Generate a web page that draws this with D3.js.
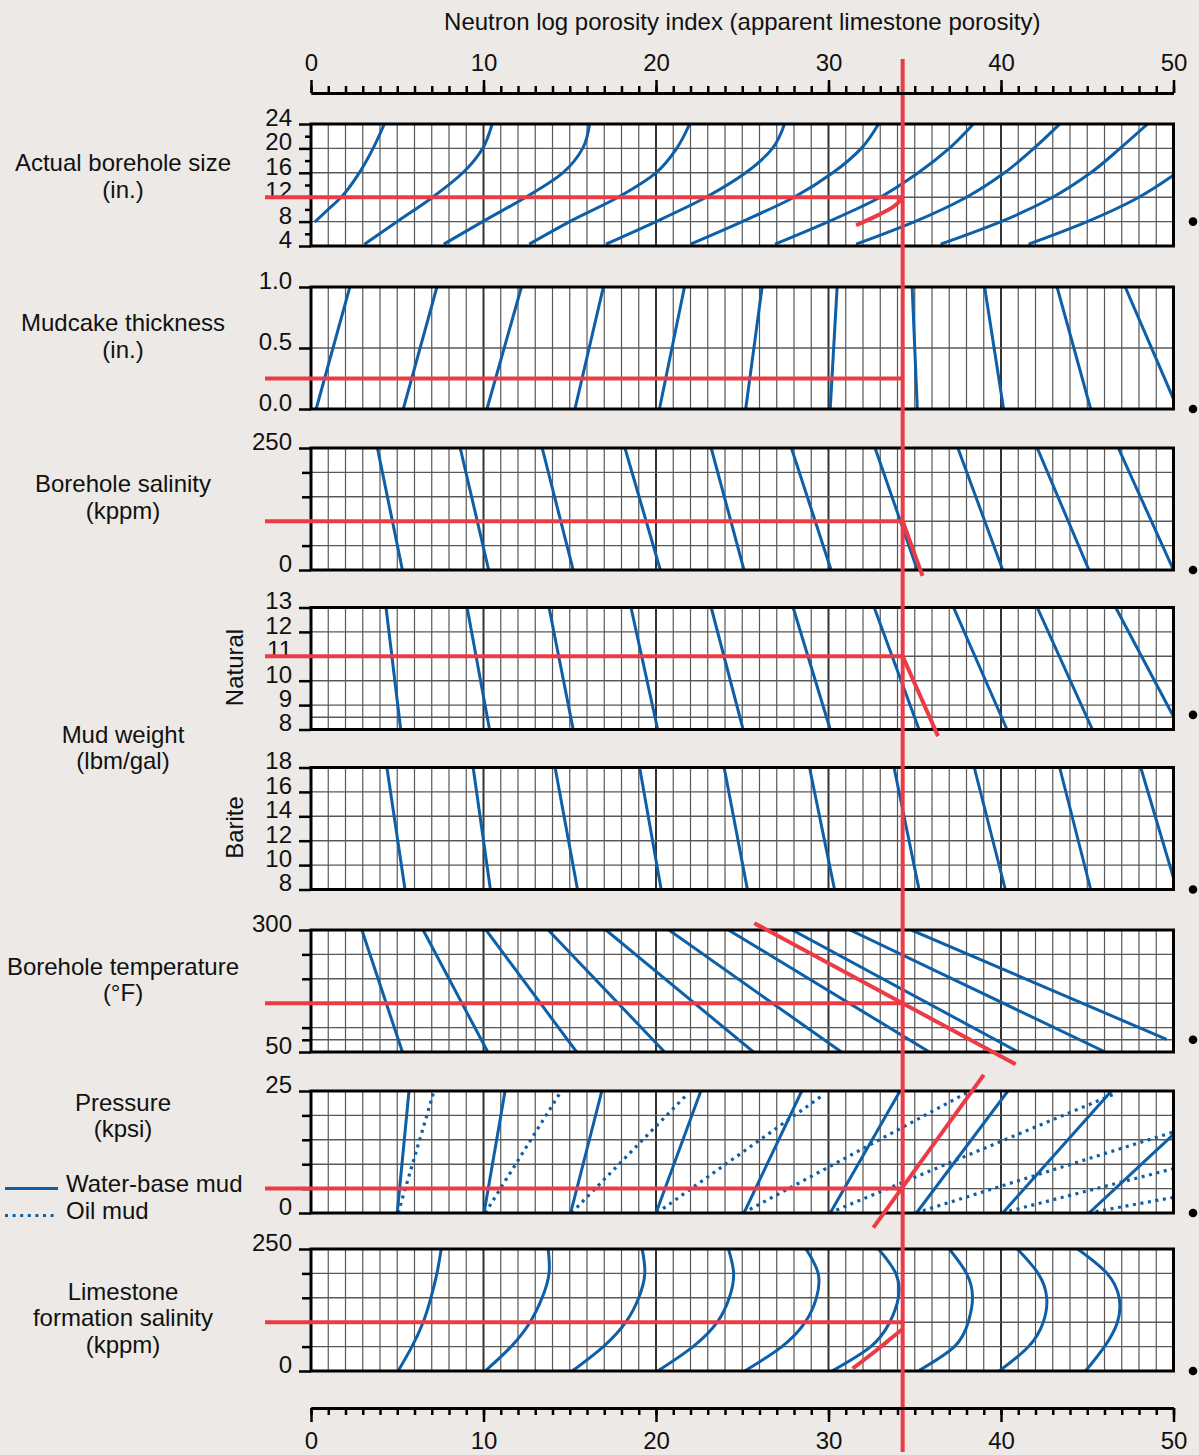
<!DOCTYPE html>
<html><head><meta charset="utf-8">
<script src="https://cdn.jsdelivr.net/npm/d3@7"></script>
<style>
body{margin:0;background:#ECE9E6;}
svg{display:block;}
text{font-family:"Liberation Sans",Arial,Helvetica,sans-serif;fill:#111;}
</style>
</head><body>
<svg id="c" width="1199" height="1455"></svg>
<script>
// ---------------- DATA ----------------
const chartTitle = "Neutron log porosity index (apparent limestone porosity)";
const porosityMajorTicks = [0,10,20,30,40,50];
const porosityMinorTicks = d3.range(0,51,1);
const apparentPorosity = 34.3;

// Panel 1: actual borehole size (in.)
const sizeDomain = [4,24];
const sizeLabelTicks = [4,8,12,16,20,24];
const sizeMinorTicks = [6,10,14,18,22];
const sizeGrid = [8,12,16,20];
const boreholeSizeCurves = [
  [[0.2,7.9],[1.0,10],[1.75,12],[2.8,16],[3.6,20],[4.25,24]],
  [[3.1,4.3],[5.0,8],[7.05,12],[8.8,16],[9.95,20],[10.5,24]],
  [[7.7,4.3],[9.95,8],[12.45,12],[14.6,16],[15.75,20],[16.15,24]],
  [[12.65,4.3],[15.0,8],[17.8,12],[20.0,16],[21.2,20],[21.95,24]],
  [[17.1,4.3],[20.0,8],[22.9,12],[25.2,16],[26.75,20],[27.45,24]],
  [[22.0,4.3],[25.0,8],[28.0,12],[30.25,16],[31.9,20],[32.9,24]],
  [[26.9,4.3],[30.0,8],[33.0,12],[35.2,16],[37.0,20],[38.4,24]],
  [[31.6,4.3],[35.0,8],[38.0,12],[40.2,16],[41.9,20],[43.4,24]],
  [[36.5,4.3],[40.0,8],[43.0,12],[45.2,16],[46.9,20],[48.5,24]],
  [[41.6,4.3],[45.0,8],[48.0,12],[49.95,15.5]]
];
const boreholeSizeInput = 12;
const boreholeSizeCorrection = [[31.6,7.4],[32.9,9.1],[33.75,10.4],[34.3,11.9]];

// Panel 2: mudcake thickness (in.)
const mudcakeDomain = [0,1];
const mudcakeLabelTicks = [0,0.5,1];
const mudcakeGrid = [0.5];
const mudcakeLines = [
  [[0.3,0],[2.25,1]],[[5.35,0],[7.3,1]],[[10.2,0],[12.2,1]],[[15.3,0],[16.95,1]],
  [[20.2,0],[21.65,1]],[[25.2,0],[26.15,1]],[[30.1,0],[30.5,1]],[[35.15,0],[34.85,1]],
  [[40.15,0],[39.05,1]],[[45.2,0],[43.25,1]],[[50.25,0],[47.2,1]]
];
const mudcakeInput = 0.25;

// Panel 3: borehole salinity (kppm)
const bhSalinityDomain = [0,250];
const bhSalinityLabelTicks = [0,250];
const bhSalinityMinorTicks = [50,100,150,200];
const bhSalinityGrid = [50,100,150,200];
const bhSalinityLines = [
  [[3.85,250],[5.3,0]],[[8.65,250],[10.3,0]],[[13.4,250],[15.2,0]],[[18.2,250],[20.25,0]],
  [[23.2,250],[25.1,0]],[[27.85,250],[30.15,0]],[[32.7,250],[35.15,0]],[[37.5,250],[40.1,0]],
  [[42.1,250],[45.1,0]],[[46.8,250],[50.0,0]]
];
const bhSalinityInput = 100;
const bhSalinityCorrection = [[34.3,100],[35.45,-12]];

// Panel 4: natural mud weight (lbm/gal)
const naturalDomain = [8,13];
const naturalLabelTicks = [8,9,10,11,12,13];
const naturalGrid = [8.5,9,10,11,12];
const naturalLines = [
  [[4.35,13],[5.2,8]],[[9.05,13],[10.35,8]],[[13.8,13],[15.2,8]],[[18.55,13],[20.1,8]],
  [[23.2,13],[25.05,8]],[[27.95,13],[30.1,8]],[[32.65,13],[35.25,8]],[[37.25,13],[40.35,8]],
  [[42.1,13],[45.3,8]],[[46.65,13],[50.4,8]]
];
const naturalInput = 11;
const naturalCorrection = [[34.3,11],[36.35,7.73]];

// Panel 5: barite mud weight (lbm/gal)
const bariteDomain = [8,18];
const bariteLabelTicks = [8,10,12,14,16,18];
const bariteGrid = [10,12,14,16];
const bariteLines = [
  [[4.4,18],[5.45,8]],[[9.4,18],[10.4,8]],[[14.15,18],[15.45,8]],[[19.05,18],[20.3,8]],
  [[23.95,18],[25.3,8]],[[28.9,18],[30.35,8]],[[33.8,18],[35.25,8]],[[38.45,18],[40.25,8]],
  [[43.4,18],[45.2,8]],[[48.1,18],[50.2,8]]
];

// Panel 6: borehole temperature (°F)
const temperatureDomain = [50,300];
const temperatureLabelTicks = [50,300];
const temperatureMinorTicks = [75,100,150,200,250];
const temperatureGrid = [75,100,150,200,250];
const temperatureLines = [
  [[2.95,300],[5.3,50]],[[6.5,300],[10.25,50]],[[10.15,300],[15.4,50]],[[13.75,300],[20.5,50]],
  [[17.1,300],[25.65,50]],[[20.75,300],[30.75,50]],[[24.2,300],[35.85,50]],[[27.9,300],[41.0,50]],
  [[31.25,300],[46.05,50]],[[34.8,300],[49.6,76]]
];
const temperatureInput = 150;
const temperatureCorrection = [[25.7,314],[40.85,24.7]];

// Panel 7: pressure (kpsi)
const pressureDomain = [0,25];
const pressureLabelTicks = [0,25];
const pressureMinorTicks = [5,10,15,20];
const pressureGrid = [5,10,15,20];
const waterBaseMudLines = [
  [[5.0,0],[5.68,25]],[[10.03,0],[11.25,25]],[[15.05,0],[16.86,25]],[[20.0,0],[22.6,25]],
  [[25.1,0],[28.45,25]],[[30.1,0],[34.15,25]],[[35.1,0],[40.4,25]],[[40.1,0],[46.4,25]],
  [[45.1,0],[50.0,16.1]]
];
const oilMudLines = [
  [[5.05,0],[7.13,25]],[[10.1,0],[14.4,24.4]],[[15.1,0],[21.8,24.3]],[[20.05,0],[29.7,24.2]],
  [[25.05,0],[38.0,24.6]],[[30.05,0],[46.65,24.5]],[[35.05,0],[50.0,16.6]],[[40.05,0],[50.0,9.1]],
  [[45.05,0],[50.0,3.2]]
];
const pressureInput = 5;
const pressureCorrection = [[32.6,-3],[39.0,28.3]];

// Panel 8: limestone formation salinity (kppm)
const lsSalinityDomain = [0,250];
const lsSalinityLabelTicks = [0,250];
const lsSalinityMinorTicks = [50,100,150,200];
const lsSalinityGrid = [50,100,150,200];
const lsSalinityLevels = [0,50,100,150,200,250];
const lsSalinityPorosity = [
  [5.05,5.85,6.5,6.95,7.3,7.55],
  [10.1,11.6,12.7,13.4,13.8,13.75],
  [15.15,16.95,18.25,19.0,19.35,19.2],
  [20.1,22.15,23.55,24.25,24.5,24.2],
  [25.15,27.3,28.65,29.3,29.4,28.7],
  [30.2,32.45,33.55,34.05,33.9,32.9],
  [35.2,37.3,38.1,38.35,38.0,37.0],
  [39.9,41.6,42.45,42.65,42.15,40.95],
  [44.9,46.0,46.75,46.85,46.15,44.45]
];
const lsSalinityCurves = lsSalinityPorosity.map(row=>row.map((v,k)=>[v,lsSalinityLevels[k]]));
const lsSalinityInput = 100;
const lsSalinityCorrection = [[31.4,5],[32.8,43],[33.6,66],[34.3,86]];

// Standard-condition markers (one per panel)
const standardConditions = [8,0,0,8.6,8,75,0,0];

// ---------------- LAYOUT / DRAW ----------------
const W=1199, H=1455, PH=122, FS=24;
const BLUE='#0d5fa7', RED='#ec3b45';
const svg=d3.select('#c');
svg.append('rect').attr('width',W).attr('height',H).attr('fill','#ECE9E6');
const x=d3.scaleLinear().domain([0,50]).range([311,1173.5]);
const panelTops=[124,287,448,607.5,767.5,930,1091,1249];

const panels=[
  {domain:sizeDomain,labels:sizeLabelTicks,minor:sizeMinorTicks,minorSize:6,grid:sizeGrid,fmt:d3.format('d'),
   series:[{lines:boreholeSizeCurves,curve:d3.curveMonotoneY}],input:boreholeSizeInput,corr:boreholeSizeCorrection,corrCurve:d3.curveMonotoneY},
  {domain:mudcakeDomain,labels:mudcakeLabelTicks,minor:[],grid:mudcakeGrid,fmt:d3.format('.1f'),
   series:[{lines:mudcakeLines}],input:mudcakeInput},
  {domain:bhSalinityDomain,labels:bhSalinityLabelTicks,minor:bhSalinityMinorTicks,minorSize:9,grid:bhSalinityGrid,fmt:d3.format('d'),
   series:[{lines:bhSalinityLines}],input:bhSalinityInput,corr:bhSalinityCorrection},
  {domain:naturalDomain,labels:naturalLabelTicks,minor:[],grid:naturalGrid,fmt:d3.format('d'),
   series:[{lines:naturalLines}],input:naturalInput,corr:naturalCorrection},
  {domain:bariteDomain,labels:bariteLabelTicks,minor:[],grid:bariteGrid,fmt:d3.format('d'),
   series:[{lines:bariteLines}]},
  {domain:temperatureDomain,labels:temperatureLabelTicks,minor:temperatureMinorTicks,minorSize:9,grid:temperatureGrid,fmt:d3.format('d'),
   series:[{lines:temperatureLines}],input:temperatureInput,corr:temperatureCorrection},
  {domain:pressureDomain,labels:pressureLabelTicks,minor:pressureMinorTicks,minorSize:9,grid:pressureGrid,fmt:d3.format('d'),
   series:[{lines:waterBaseMudLines},{lines:oilMudLines,dotted:true}],input:pressureInput,corr:pressureCorrection},
  {domain:lsSalinityDomain,labels:lsSalinityLabelTicks,minor:lsSalinityMinorTicks,minorSize:9,grid:lsSalinityGrid,fmt:d3.format('d'),
   series:[{lines:lsSalinityCurves,curve:d3.curveNatural}],input:lsSalinityInput,corr:lsSalinityCorrection,corrCurve:d3.curveNatural}
];

const defs=svg.append('defs');
const redLayer=[];

panels.forEach((p,i)=>{
  const top=panelTops[i];
  const y=d3.scaleLinear().domain(p.domain).range([top+PH,top]);
  const g=svg.append('g');
  const x0=x(0), x1=x(50);
  g.append('rect').attr('x',x0).attr('y',top).attr('width',x1-x0).attr('height',PH).attr('fill','#fff');
  g.append('g').selectAll('line').data(d3.range(1,50)).join('line')
    .attr('x1',d=>x(d)).attr('x2',d=>x(d)).attr('y1',top).attr('y2',top+PH)
    .attr('stroke',d=>d%10===0?'#333':'#585858').attr('stroke-width',d=>d%10===0?2:1.2);
  g.append('g').selectAll('line').data(p.grid).join('line')
    .attr('x1',x0).attr('x2',x1).attr('y1',d=>y(d)).attr('y2',d=>y(d))
    .attr('stroke','#585858').attr('stroke-width',1.4);
  const cid='clip'+i;
  defs.append('clipPath').attr('id',cid).append('rect').attr('x',x0).attr('y',top).attr('width',x1-x0).attr('height',PH);
  const lg=g.append('g').attr('clip-path',`url(#${cid})`);
  p.series.forEach(s=>{
    const gen=d3.line().x(d=>x(d[0])).y(d=>y(d[1]));
    if(s.curve) gen.curve(s.curve);
    lg.append('g').selectAll('path').data(s.lines).join('path')
      .attr('d',gen).attr('fill','none').attr('stroke',BLUE)
      .attr('stroke-width',s.dotted?3.2:3)
      .attr('stroke-dasharray',s.dotted?'3 4.6':null);
  });
  g.append('rect').attr('x',x0).attr('y',top).attr('width',x1-x0).attr('height',PH)
    .attr('fill','none').attr('stroke','#000').attr('stroke-width',3);
  const ax=g.append('g').attr('transform',`translate(${x0},0)`)
    .call(d3.axisLeft(y).tickValues(p.labels).tickSize(12).tickPadding(7).tickFormat(p.fmt));
  ax.select('.domain').remove();
  ax.selectAll('line').attr('stroke','#000').attr('stroke-width',2.5);
  ax.selectAll('text').attr('font-size',FS).attr('dy','0.06em').style('font-family','"Liberation Sans",Arial,sans-serif').attr('fill','#111');
  if(p.minor.length){
    const am=g.append('g').attr('transform',`translate(${x0},0)`)
      .call(d3.axisLeft(y).tickValues(p.minor).tickSize(p.minorSize).tickFormat(''));
    am.select('.domain').remove();
    am.selectAll('line').attr('stroke','#000').attr('stroke-width',2.5);
  }
  g.append('circle').attr('cx',x1+19.5).attr('cy',y(standardConditions[i])).attr('r',4.3).attr('fill','#000');
  if(p.input!==undefined) redLayer.push({type:'h',y:y(p.input)});
  if(p.corr){
    const gen=d3.line().x(d=>x(d[0])).y(d=>y(d[1]));
    if(p.corrCurve) gen.curve(p.corrCurve);
    redLayer.push({type:'p',d:gen(p.corr)});
  }
});

const rg=svg.append('g');
redLayer.forEach(r=>{
  if(r.type==='h'){
    rg.append('line').attr('x1',265).attr('x2',x(apparentPorosity)).attr('y1',r.y).attr('y2',r.y)
      .attr('stroke',RED).attr('stroke-width',4);
  } else {
    rg.append('path').attr('d',r.d).attr('fill','none').attr('stroke',RED).attr('stroke-width',4);
  }
});
rg.append('line').attr('x1',x(apparentPorosity)).attr('x2',x(apparentPorosity)).attr('y1',59).attr('y2',1452)
  .attr('stroke',RED).attr('stroke-width',4);

function styleAxis(a){
  a.select('.domain').attr('stroke','#000').attr('stroke-width',3);
  a.selectAll('.tick line').attr('stroke','#000').attr('stroke-width',2.5);
  a.selectAll('text').attr('font-size',FS).style('font-family','"Liberation Sans",Arial,sans-serif').attr('fill','#111');
}
const tMinor=svg.append('g').attr('transform','translate(0,93)')
  .call(d3.axisTop(x).tickValues(porosityMinorTicks).tickSize(7).tickSizeOuter(0).tickFormat(''));
styleAxis(tMinor);
const tMajor=svg.append('g').attr('transform','translate(0,93)')
  .call(d3.axisTop(x).tickValues(porosityMajorTicks).tickSize(13).tickSizeOuter(0).tickPadding(9.5));
styleAxis(tMajor);
const bMinor=svg.append('g').attr('transform','translate(0,1408)')
  .call(d3.axisBottom(x).tickValues(porosityMinorTicks).tickSize(7).tickSizeOuter(0).tickFormat(''));
styleAxis(bMinor);
const bMajor=svg.append('g').attr('transform','translate(0,1408)')
  .call(d3.axisBottom(x).tickValues(porosityMajorTicks).tickSize(14).tickSizeOuter(0).tickPadding(10));
styleAxis(bMajor);

svg.append('text').attr('x',(x(0)+x(50))/2).attr('y',29.5).attr('text-anchor','middle')
  .attr('font-size',FS).text(chartTitle);

const sideLabels=[
  {t:["Actual borehole size","(in.)"],c:[163,190]},
  {t:["Mudcake thickness","(in.)"],c:[323,350]},
  {t:["Borehole salinity","(kppm)"],c:[484,511]},
  {t:["Mud weight","(lbm/gal)"],c:[735,761]},
  {t:["Borehole temperature","(°F)"],c:[967,993]},
  {t:["Pressure","(kpsi)"],c:[1103,1129]},
  {t:["Limestone","formation salinity","(kppm)"],c:[1292,1318,1345]}
];
sideLabels.forEach(s=>{
  s.t.forEach((t,k)=>{
    svg.append('text').attr('x',123).attr('y',s.c[k]+8.4).attr('text-anchor','middle').attr('font-size',FS).text(t);
  });
});
[["Natural",667.5],["Barite",827.5]].forEach(([t,cy])=>{
  svg.append('text').attr('transform',`translate(243,${cy}) rotate(-90)`).attr('text-anchor','middle')
    .attr('font-size',FS).text(t);
});

const legend=[{label:"Water-base mud",dotted:false,y:1188.5},{label:"Oil mud",dotted:true,y:1215.5}];
legend.forEach(l=>{
  svg.append('line').attr('x1',5).attr('x2',58).attr('y1',l.y).attr('y2',l.y)
    .attr('stroke',BLUE).attr('stroke-width',3).attr('stroke-dasharray',l.dotted?'3 4.6':null);
  svg.append('text').attr('x',66).attr('y',l.y+3).attr('font-size',FS).text(l.label);
});
</script>
</body></html>
